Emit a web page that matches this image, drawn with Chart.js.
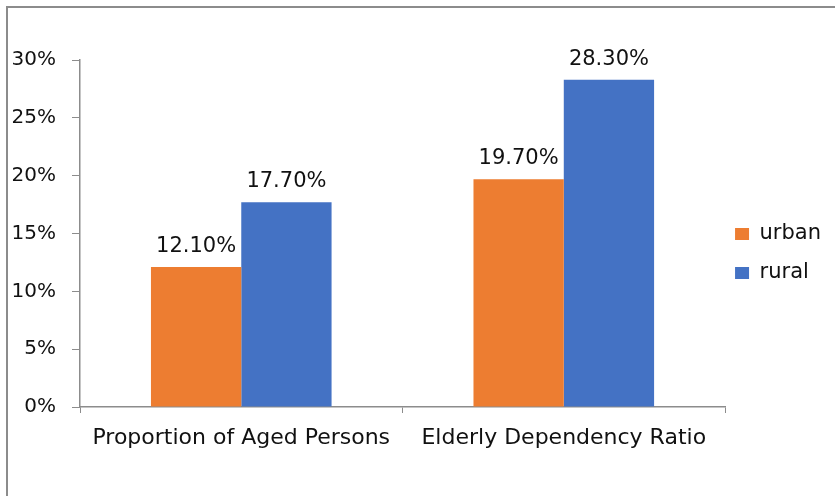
<!DOCTYPE html>
<html>
<head>
<meta charset="utf-8">
<script src="https://cdn.jsdelivr.net/npm/chart.js@4"></script>
<style>
  html, body { margin: 0; padding: 0; background: #fff; }
  .frame {
    position: absolute; left: 6px; top: 6px; width: 900px; height: 600px;
    border: 2px solid #8c8c8c;
  }
  .chart-wrapper { position: absolute; left: 0; top: 0; width: 835px; height: 496px; }
</style>
</head>
<body>
<div class="frame"></div>
<div class="chart-wrapper"><canvas id="chart"></canvas></div>
<script>
const categories = ['Proportion of Aged Persons', 'Elderly Dependency Ratio'];
const urbanValues = [12.1, 19.7];
const ruralValues = [17.7, 28.3];
const yTicks = [0, 5, 10, 15, 20, 25, 30];

const FONT = "'DejaVu Sans', sans-serif";

// Draw the value labels above each bar
const valueLabels = {
  id: 'valueLabels',
  afterDatasetsDraw(chart) {
    const ctx = chart.ctx;
    ctx.save();
    ctx.font = `21px ${FONT}`;
    ctx.fillStyle = '#111';
    ctx.textAlign = 'center';
    ctx.textBaseline = 'alphabetic';
    chart.data.datasets.forEach((ds, i) => {
      chart.getDatasetMeta(i).data.forEach((bar, j) => {
        ctx.fillText(ds.data[j].toFixed(2) + '%', bar.x, bar.y - 15);
      });
    });
    ctx.restore();
  }
};

// Pull the legend a bit closer to the plot, keeping the plot width
const legendNudge = {
  id: 'legendNudge',
  afterLayout(chart) {
    chart.legend.left -= 8;
    chart.legend.right -= 8;
  }
};

new Chart(document.getElementById('chart'), {
  type: 'bar',
  data: {
    labels: categories,
    datasets: [
      { label: 'urban', data: urbanValues, backgroundColor: '#ED7D31' },
      { label: 'rural', data: ruralValues, backgroundColor: '#4472C4' }
    ]
  },
  options: {
    responsive: true,
    maintainAspectRatio: false,
    animation: false,
    layout: { padding: { top: 60, left: 8, right: -4, bottom: 0 } },
    datasets: { bar: { categoryPercentage: 0.56, barPercentage: 1.0 } },
    plugins: {
      tooltip: { enabled: false },
      legend: {
        position: 'right',
        fullSize: false,
        title: { display: true, text: ' ', font: { size: 10 }, padding: 14 },
        labels: {
          boxWidth: 14,
          boxHeight: 12,
          padding: 18,
          color: '#111',
          font: { family: FONT, size: 21 }
        }
      }
    },
    scales: {
      x: {
        grid: { display: true, drawOnChartArea: false, color: '#8c8c8c', tickLength: 6, offset: true },
        border: { color: '#8c8c8c', width: 1.5 },
        ticks: { color: '#111', padding: 12, font: { family: FONT, size: 22 } },
        afterFit(scale) { scale.height = 89; }
      },
      y: {
        min: 0,
        max: 30,
        afterBuildTicks(scale) { scale.ticks = yTicks.map(v => ({ value: v })); },
        grid: { display: true, drawOnChartArea: false, color: '#8c8c8c', tickLength: 8 },
        border: { color: '#8c8c8c', width: 1.5 },
        ticks: {
          color: '#111',
          padding: 16,
          font: { family: FONT, size: 20 },
          callback: v => v + '%'
        },
        afterFit(scale) { scale.width = 72; }
      }
    }
  },
  plugins: [valueLabels, legendNudge]
});
</script>
</body>
</html>
